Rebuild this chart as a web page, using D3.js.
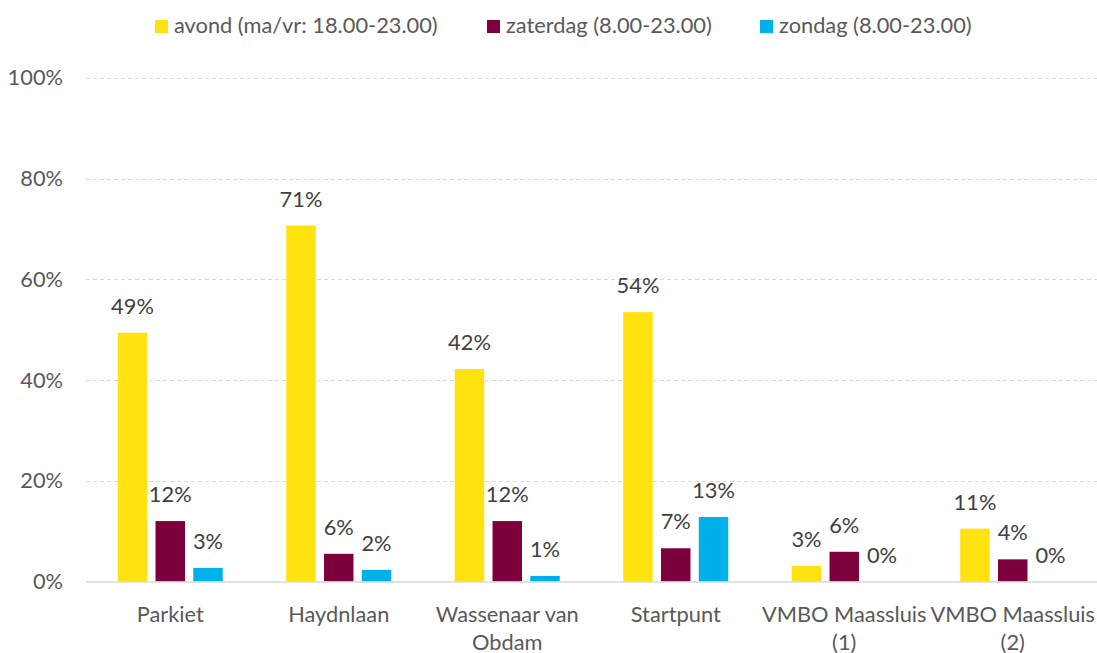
<!DOCTYPE html>
<html>
<head>
<meta charset="utf-8">
<script src="https://cdn.jsdelivr.net/npm/d3@7"></script>
<style>
  body { margin: 0; background: #fff; }
  svg { font-family: Lato, 'Open Sans', sans-serif; }
</style>
</head>
<body>
<div id="chart"></div>
<script>
// categories and series
const categories = ['Parkiet', 'Haydnlaan', 'Wassenaar van Obdam', 'Startpunt', 'VMBO Maassluis (1)', 'VMBO Maassluis (2)'];
const seriesNames = ['avond (ma/vr: 18.00-23.00)', 'zaterdag (8.00-23.00)', 'zondag (8.00-23.00)'];
const seriesColors = ['#ffe20f', '#7b003c', '#00b0eb'];

// values in percent
const avond = [49.4, 70.7, 42.2, 53.5, 3.1, 10.5];
const zaterdag = [12.0, 5.5, 12.0, 6.6, 5.9, 4.4];
const zondag = [2.7, 2.3, 1.1, 12.8, 0, 0];
const yTicks = [0, 20, 40, 60, 80, 100];

const width = 1097;
const height = 653;
const margins = {left: 86, right: 0, top: 78, bottom: 71};
const fontSize = '21.8px';
const font = 'Lato, sans-serif';

const svg = d3.select('#chart')
  .append('svg')
  .attr('width', width)
  .attr('height', height);

const x0 = d3.scaleBand()
  .domain(categories)
  .range([margins.left, width - margins.right]);

const groupW = 105;
const x1 = d3.scaleBand()
  .domain(seriesNames)
  .range([x0.bandwidth() / 2 - groupW / 2, x0.bandwidth() / 2 + groupW / 2])
  .paddingInner(0.22);

const y = d3.scaleLinear()
  .domain([0, 100])
  .range([height - margins.bottom - 0.5, margins.top]);

// grid lines
svg.append('g')
  .selectAll('line')
  .data(yTicks.filter((d) => d > 0))
  .join('line')
  .attr('x1', margins.left)
  .attr('x2', width)
  .attr('y1', (d) => Math.round(y(d)) + 0.5)
  .attr('y2', (d) => Math.round(y(d)) + 0.5)
  .attr('stroke', '#d9d9d9')
  .attr('stroke-width', 1)
  .attr('stroke-dasharray', '4,3');

// y axis labels
const yAxis = svg.append('g')
  .attr('transform', `translate(${margins.left},0)`)
  .call(d3.axisLeft(y).tickValues(yTicks).tickFormat((d) => d + '%').tickSize(0).tickPadding(23));
yAxis.select('.domain').remove();
yAxis.attr('font-family', font).attr('font-size', fontSize);
yAxis.selectAll('text').attr('fill', '#595959');

// bars
const table = categories.map((c, i) => ({
  cat: c,
  vals: [avond[i], zaterdag[i], zondag[i]],
}));

const groups = svg.append('g')
  .selectAll('g')
  .data(table)
  .join('g')
  .attr('transform', (d) => `translate(${x0(d.cat)},0)`);

groups.selectAll('rect')
  .data((d) => d.vals.map((v, k) => ({v, k})))
  .join('rect')
  .attr('x', (d) => x1(seriesNames[d.k]))
  .attr('width', x1.bandwidth())
  .attr('y', (d) => y(d.v))
  .attr('height', (d) => y(0) - y(d.v))
  .attr('fill', (d) => seriesColors[d.k]);

groups.selectAll('text')
  .data((d) => d.vals.map((v, k) => ({v, k})))
  .join('text')
  .attr('x', (d) => x1(seriesNames[d.k]) + x1.bandwidth() / 2)
  .attr('y', (d) => y(d.v) - 19)
  .attr('text-anchor', 'middle')
  .attr('fill', '#404040')
  .style('font-size', fontSize)
  .text((d) => Math.round(d.v) + '%');

// baseline
svg.append('line')
  .attr('x1', margins.left)
  .attr('x2', width)
  .attr('y1', y(0) + 0.5)
  .attr('y2', y(0) + 0.5)
  .attr('stroke', '#d9d9d9')
  .attr('stroke-width', 1.5);

// x axis labels, wrapped to the band width
const xAxis = svg.append('g')
  .attr('transform', `translate(0,${y(0)})`)
  .call(d3.axisBottom(x0).tickSize(0).tickPadding(0));
xAxis.select('.domain').remove();
xAxis.selectAll('text').remove();
xAxis.attr('font-family', font).attr('font-size', fontSize);
xAxis.selectAll('.tick').each(function(d) {
  const t = d3.select(this).append('text')
    .attr('text-anchor', 'middle')
    .attr('fill', '#595959');
  const words = d.split(' ');
  let lines = [];
  let cur = [];
  words.forEach((w) => {
    const test = cur.concat(w).join(' ');
    t.text(test);
    if (t.node().getComputedTextLength() > x0.bandwidth() && cur.length) {
      lines.push(cur.join(' '));
      cur = [w];
    } else {
      cur.push(w);
    }
  });
  lines.push(cur.join(' '));
  t.text(null);
  lines.forEach((l, i) => {
    t.append('tspan').attr('x', 0).attr('y', 40 + i * 28).text(l);
  });
});

// legend
const legend = svg.append('g');
const legendX = [155, 487, 760];
seriesNames.forEach((s, i) => {
  const item = legend.append('g').attr('transform', `translate(${legendX[i]},20)`);
  item.append('rect')
    .attr('width', 13)
    .attr('height', 13)
    .attr('fill', seriesColors[i]);
  item.append('text')
    .attr('x', 19)
    .attr('y', 13)
    .attr('fill', '#595959')
    .style('font-size', fontSize)
    .text(s);
});
</script>
</body>
</html>
